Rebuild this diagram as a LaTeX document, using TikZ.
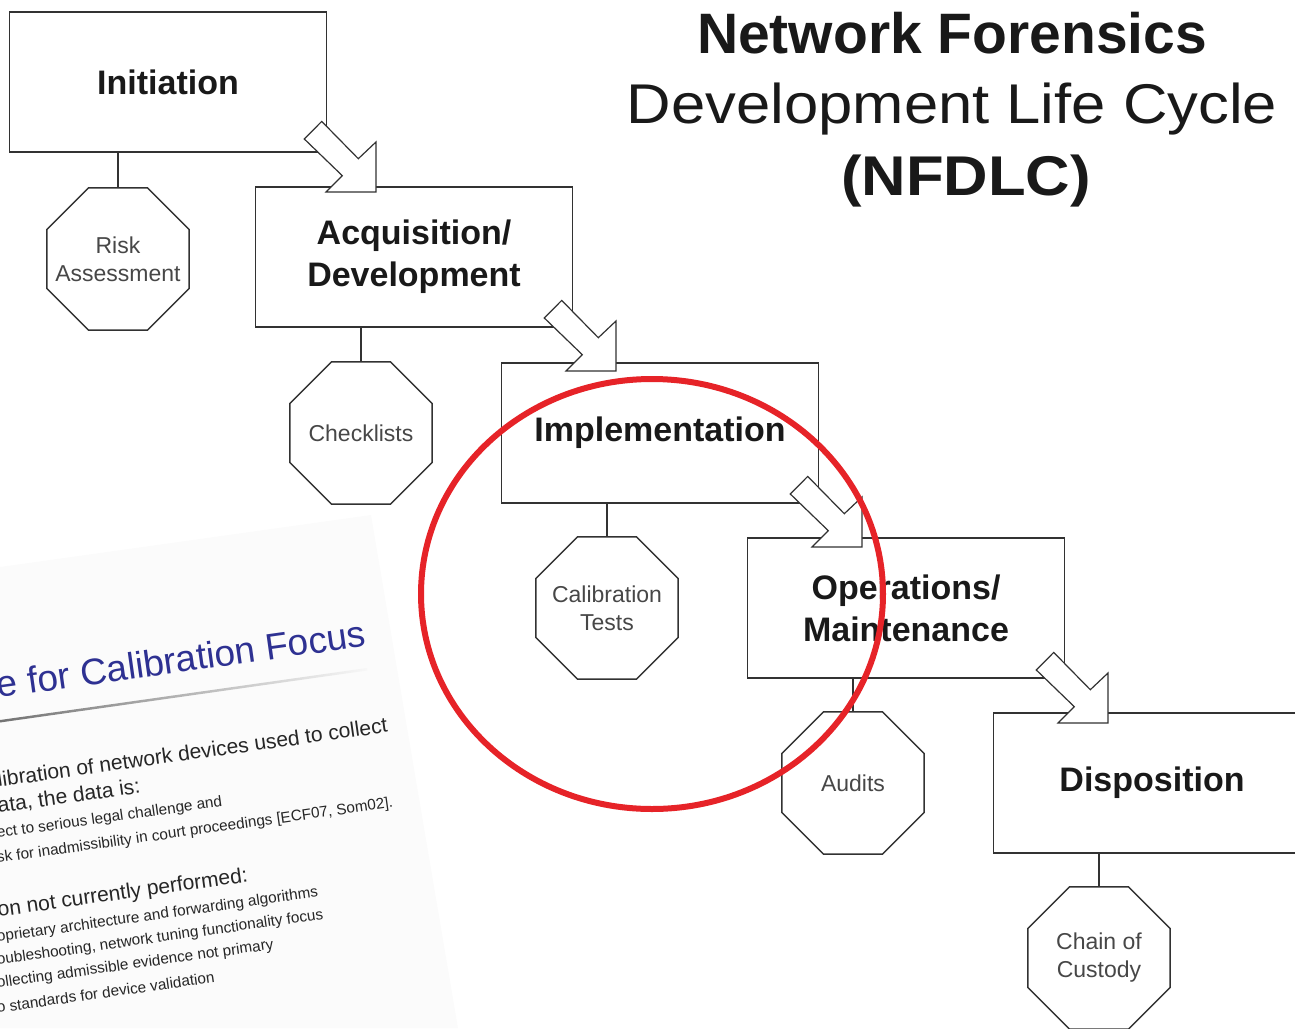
\documentclass[tikz,border=0pt]{standalone}
\usepackage{fontspec}
\setmainfont{Liberation Sans}
\newfontfamily\widefont[FakeStretch=1.1]{Liberation Sans}
\usetikzlibrary{shapes.geometric}
\definecolor{slideblue}{RGB}{46,49,146}
\definecolor{circlered}{RGB}{230,35,40}
\definecolor{linegray}{RGB}{50,50,50}
\newcommand{\slidebig}{\fontsize{21}{24}\selectfont}
\newcommand{\slidesmall}{\fontsize{15.3}{18}\selectfont}
\newcommand{\stagearrow}[2]{%
  \begin{scope}[shift={(#1.north west)}, shift={(#2)}]
    \draw[stagearrow] (0,0) -- (0,-50) -- (-17.7,-33.3) -- (-54.3,-70.6) -- (-71.7,-53) -- (-33.7,-16.3) -- (-50,0) -- cycle;
  \end{scope}}

\begin{document}
\begin{tikzpicture}[x=1pt, y=-1pt, line width=1.5pt,
  stage/.style={draw=linegray, minimum width=317pt, minimum height=140pt, inner sep=0pt, outer sep=0pt, align=center, font=\fontsize{34}{42}\selectfont\bfseries, text=black!90},
  check/.style={draw=linegray, regular polygon, regular polygon sides=8, minimum size=154pt, inner sep=0pt, outer sep=0pt, label={[checktext]center:#1}},
  checktext/.style={align=center, inner sep=0pt, font=\fontsize{23}{28}\selectfont, text=black!72},
  stagearrow/.style={draw=linegray, fill=white, line width=1.2pt, line join=miter},
  slidetext/.style={anchor=base west, rotate=8, inner sep=0pt, text=black!85}]
\useasboundingbox (0,0) rectangle (1295,1028);
\clip (0,0) rectangle (1295,1028);

\fill[black!1.5] (0,567) -- (371,515) -- (458,1028) -- (0,1028) -- cycle;
\node[slidetext, text=slideblue, font=\fontsize{37}{40}\selectfont] (slidetitle) at (-2,698) {e for Calibration Focus};
\shade[left color=black!55, right color=black!3] (0,720) -- (367,668) -- (367,670.5) -- (0,722.5) -- cycle;
\node[slidetext, font=\slidebig] (slideA) at (-2,787) {libration of network devices used to collect};
\node[slidetext, font=\slidebig] (slideB) at (-2,813) {ata, the data is:};
\node[slidetext, font=\slidesmall] (slideC) at (-3,838) {ect to serious legal challenge and};
\node[slidetext, font=\slidesmall] (slideD) at (-3,863) {sk for inadmissibility in court proceedings [ECF07, Som02].};
\node[slidetext, font=\slidebig] (slideE) at (-2,917) {on not currently performed:};
\node[slidetext, font=\slidesmall] (slideF) at (-3,942) {oprietary architecture and forwarding algorithms};
\node[slidetext, font=\slidesmall] (slideG) at (-3,965) {oubleshooting, network tuning functionality focus};
\node[slidetext, font=\slidesmall] (slideH) at (-3,988) {ollecting admissible evidence not primary};
\node[slidetext, font=\slidesmall] (slideI) at (-3,1013) {o standards for device validation};

\node[font=\fontsize{57}{60}\selectfont\bfseries, anchor=base, text=black!90] (title1) at (952,53) {Network Forensics};
\node[font=\widefont\fontsize{56}{60}\selectfont, anchor=base, text=black!90] (title2) at (952,123) {Development Life Cycle};
\node[font=\widefont\fontsize{56}{60}\selectfont\bfseries, anchor=base, text=black!90] (title3) at (966,195) {(NFDLC)};

\node[stage] (init) at (168,82) {Initiation};
\node[stage] (acq) at (414,257) {Acquisition/\\Development};
\node[stage] (impl) at (660,433) {Implementation};
\node[stage] (ops) at (906,608) {Operations/\\Maintenance};
\node[stage] (disp) at (1152,783) {Disposition};

\node[check={Risk\\Assessment}] (risk) at (118,259) {};
\node[check={Checklists}] (lists) at (361,433) {};
\node[check={Calibration\\Tests}] (calib) at (607,608) {};
\node[check={Audits}] (audits) at (853,783) {};
\node[check={Chain of\\Custody}] (custody) at (1099,958) {};

\foreach \s/\c in {init/risk, acq/lists, impl/calib, ops/audits, disp/custody}
  \draw[linegray] (\c.north) -- (\c.north |- \s.south);

\stagearrow{acq}{120.5,5}
\stagearrow{impl}{114.5,8}
\stagearrow{ops}{114.5,9}
\stagearrow{disp}{114.5,10}

\draw[circlered, line width=6pt] (652,594) ellipse [x radius=231, y radius=215];
\end{tikzpicture}
\end{document}
